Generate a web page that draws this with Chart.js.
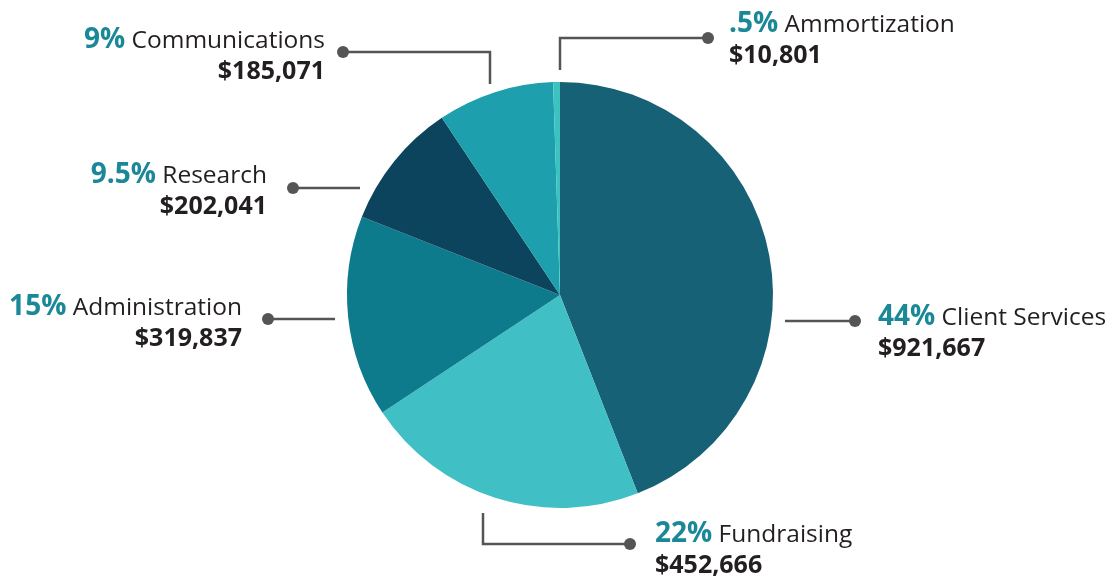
<!DOCTYPE html>
<html>
<head>
<meta charset="utf-8">
<title>Expenses</title>
<script src="https://cdn.jsdelivr.net/npm/chart.js@4/dist/chart.umd.min.js"></script>
<style>
  html, body { margin: 0; padding: 0; background: #fff; }
  #wrap { width: 1114px; height: 576px; position: relative; }
</style>
</head>
<body>
<div id="wrap"><canvas id="expenseChart"></canvas></div>
<script>
// Expense breakdown
const categories = ['Client Services', 'Fundraising', 'Administration', 'Research', 'Communications', 'Ammortization'];
const amounts = [921667, 452666, 319837, 202041, 185071, 10801];
const percentLabels = ['44%', '22%', '15%', '9.5%', '9%', '.5%'];
const sliceColors = ['#166175', '#40c0c5', '#0e7b8d', '#0d445d', '#1d9fad', '#3dc2c0'];

// leader lines, offsets from pie centre: path points, then where the text sits
const callouts = [
    { path: [[225, 26], [295, 26]], text: [318, 30], align: 'left' },
    { path: [[-77, 218], [-77, 249], [70, 249]], text: [95, 247], align: 'left' },
    { path: [[-225, 24], [-292, 24]], text: [-318, 20], align: 'right' },
    { path: [[-200, -107], [-267, -107]], text: [-293, -112], align: 'right' },
    { path: [[-70, -211], [-70, -243], [-217, -243]], text: [-235, -247], align: 'right' },
    { path: [[0, -225], [0, -257], [148, -257]], text: [169, -263], align: 'left' }
];

const FONT = '"Open Sans", "Noto Sans", sans-serif';
const PCT_FONT = 'bold 28px ' + FONT;
const NAME_FONT = '24.5px ' + FONT;
const MONEY_FONT = 'bold 25px ' + FONT;

const calloutPlugin = {
    id: 'callouts',
    afterDraw(chart) {
        const ctx = chart.ctx;
        const arc = chart.getDatasetMeta(0).data[0];
        const cx = arc.x, cy = arc.y;
        ctx.save();
        callouts.forEach((c, i) => {
            // elbow line
            ctx.strokeStyle = '#555558';
            ctx.lineWidth = 2.5;
            ctx.beginPath();
            c.path.forEach((p, j) => {
                if (j === 0) ctx.moveTo(cx + p[0], cy + p[1]);
                else ctx.lineTo(cx + p[0], cy + p[1]);
            });
            ctx.stroke();
            const end = c.path[c.path.length - 1];
            ctx.fillStyle = '#555558';
            ctx.beginPath();
            ctx.arc(cx + end[0], cy + end[1], 6, 0, Math.PI * 2);
            ctx.fill();

            // "44% Client Services" / "$921,667"
            const pct = percentLabels[i];
            const name = ' ' + categories[i];
            const money = '$' + amounts[i].toLocaleString('en-US');
            ctx.textBaseline = 'alphabetic';
            ctx.textAlign = 'left';
            ctx.font = PCT_FONT;
            const wPct = ctx.measureText(pct).width;
            ctx.font = NAME_FONT;
            const wName = ctx.measureText(name).width;
            ctx.font = MONEY_FONT;
            const wMoney = ctx.measureText(money).width;

            const tx = cx + c.text[0], ty = cy + c.text[1];
            let x1 = tx, x2 = tx;
            if (c.align === 'right') {
                x1 = tx - wPct - wName;
                x2 = tx - wMoney;
            }
            ctx.font = PCT_FONT;
            ctx.fillStyle = '#1a8897';
            ctx.fillText(pct, x1, ty);
            ctx.font = NAME_FONT;
            ctx.fillStyle = '#231f20';
            ctx.fillText(name, x1 + wPct, ty);
            ctx.font = MONEY_FONT;
            ctx.fillText(money, x2, ty + 31);
        });
        ctx.restore();
    }
};

const ctx = document.getElementById('expenseChart').getContext('2d');
new Chart(ctx, {
    type: 'pie',
    data: {
        labels: categories,
        datasets: [{
            data: amounts,
            backgroundColor: sliceColors,
            borderWidth: 0
        }]
    },
    options: {
        responsive: true,
        maintainAspectRatio: false,
        animation: false,
        layout: { padding: { top: 82, bottom: 68, left: 347, right: 341 } },
        plugins: {
            legend: { display: false },
            tooltip: { enabled: false }
        }
    },
    plugins: [calloutPlugin]
});
</script>
</body>
</html>
